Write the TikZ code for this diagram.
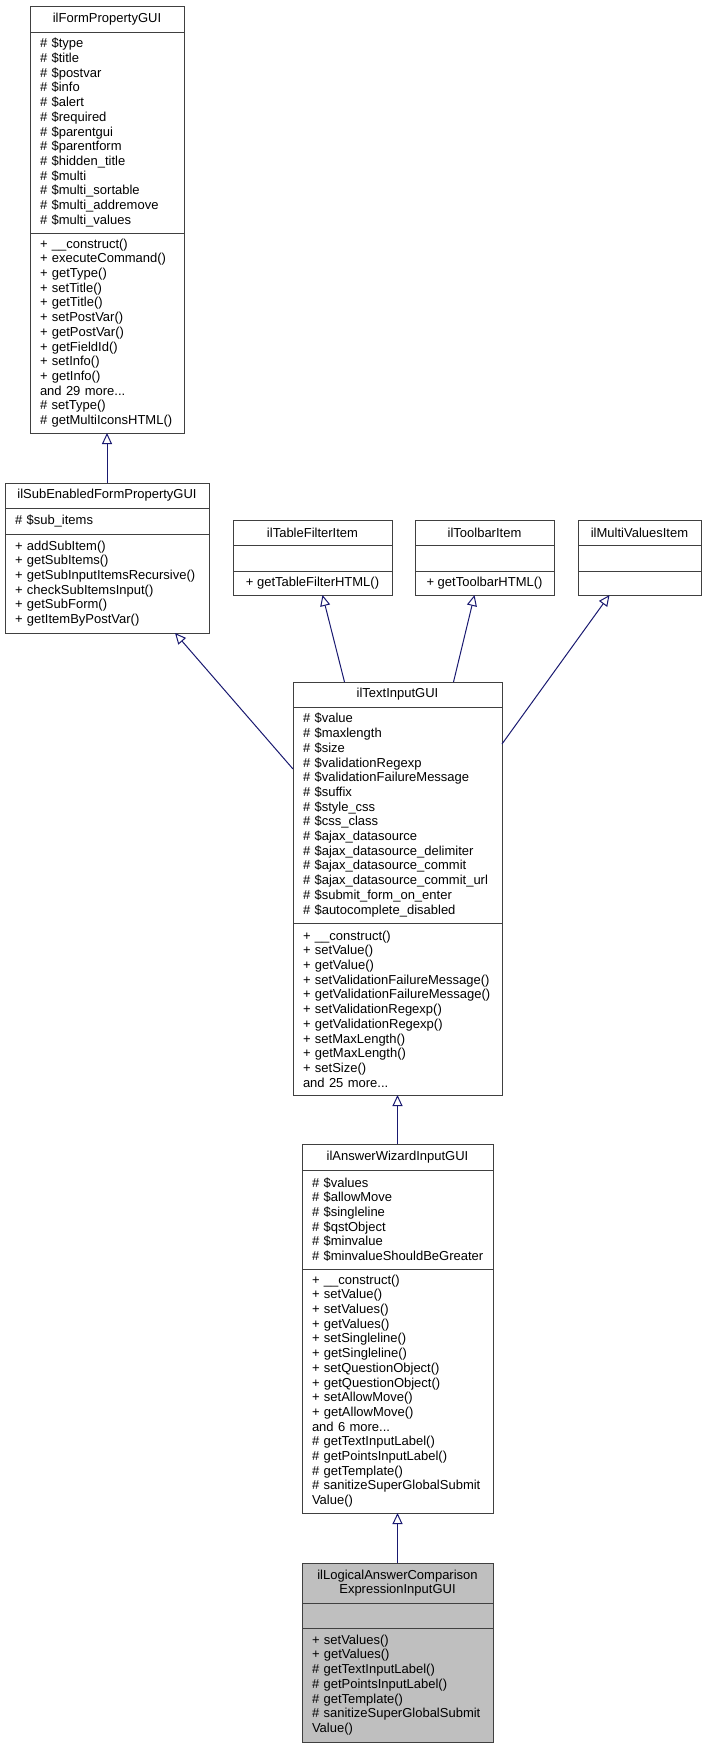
\documentclass[tikz,border=0pt]{standalone}
\usepackage{fontspec}
\setmainfont{Liberation Sans}
\usetikzlibrary{arrows.meta}
\usetikzlibrary{positioning}
\definecolor{edgeblue}{HTML}{191970}
\definecolor{boxline}{HTML}{404040}
\definecolor{boxgray}{HTML}{BFBFBF}

\begin{document}
\begin{tikzpicture}
		[x=1pt,y=-1pt,
		every node/.style={draw=boxline,line width=1pt,outer sep=0pt,inner xsep=10pt,inner ysep=3pt,anchor=north west,font=\fontsize{13}{14.7}\selectfont},
		clsname/.style={align=center},
		members/.style={align=left},
		inherit/.style={draw=edgeblue,line width=1pt,-{Triangle[open,length=11pt,width=10pt]}}]
		\useasboundingbox (0,0) rectangle (706,1748);
		
		% ilFormPropertyGUI
		\node[clsname,minimum width=154pt,minimum height=26pt] (fpname) at (30,6) {ilFormPropertyGUI};
		\node[members,text width=134pt,minimum height=201pt,below=0pt of fpname] (fpattr) {\# \$type\\\# \$title\\\# \$postvar\\\# \$info\\\# \$alert\\\# \$required\\\# \$parentgui\\\# \$parentform\\\# \$hidden\_title\\\# \$multi\\\# \$multi\_sortable\\\# \$multi\_addremove\\\# \$multi\_values};
		\node[members,text width=134pt,minimum height=200pt,below=0pt of fpattr] (fpmeth) {+ \_\_construct()\\+ executeCommand()\\+ getType()\\+ setTitle()\\+ getTitle()\\+ setPostVar()\\+ getPostVar()\\+ getFieldId()\\+ setInfo()\\+ getInfo()\\and 29 more...\\\# setType()\\\# getMultiIconsHTML()};
		
		% ilSubEnabledFormPropertyGUI
		\node[clsname,minimum width=204pt,minimum height=25pt] (sename) at (5,483) {ilSubEnabledFormPropertyGUI};
		\node[members,text width=184pt,minimum height=26pt,below=0pt of sename] (seattr) {\# \$sub\_items};
		\node[members,text width=184pt,minimum height=99pt,below=0pt of seattr] (semeth) {+ addSubItem()\\+ getSubItems()\\+~getSubInputItemsRecursive()\\+ checkSubItemsInput()\\+ getSubForm()\\+ getItemByPostVar()};
		
		% ilTableFilterItem
		\node[clsname,minimum width=159pt,minimum height=25pt] (tfname) at (233,520) {ilTableFilterItem};
		\node[minimum width=159pt,minimum height=26pt,below=0pt of tfname] (tfattr) {};
		\node[clsname,minimum width=159pt,minimum height=24pt,below=0pt of tfattr] (tfmeth) {+ getTableFilterHTML()};
		
		% ilToolbarItem
		\node[clsname,minimum width=139pt,minimum height=25pt] (tbname) at (415,520) {ilToolbarItem};
		\node[minimum width=139pt,minimum height=26pt,below=0pt of tbname] (tbattr) {};
		\node[clsname,minimum width=139pt,minimum height=24pt,below=0pt of tbattr] (tbmeth) {+ getToolbarHTML()};
		
		% ilMultiValuesItem
		\node[clsname,minimum width=123pt,minimum height=25pt] (mvname) at (578,520) {ilMultiValuesItem};
		\node[minimum width=123pt,minimum height=26pt,below=0pt of mvname] (mvattr) {};
		\node[minimum width=123pt,minimum height=24pt,below=0pt of mvattr] (mvmeth) {};
		
		% ilTextInputGUI
		\node[clsname,minimum width=209pt,minimum height=25pt] (tiname) at (293,682) {ilTextInputGUI};
		\node[members,text width=189pt,minimum height=216pt,below=0pt of tiname] (tiattr) {\# \$value\\\# \$maxlength\\\# \$size\\\# \$validationRegexp\\\# \$validationFailureMessage\\\# \$suffix\\\# \$style\_css\\\# \$css\_class\\\# \$ajax\_datasource\\\# \$ajax\_datasource\_delimiter\\\# \$ajax\_datasource\_commit\\\#~\$ajax\_datasource\_commit\_url\\\# \$submit\_form\_on\_enter\\\# \$autocomplete\_disabled};
		\node[members,text width=189pt,minimum height=172pt,below=0pt of tiattr] (timeth) {+ \_\_construct()\\+ setValue()\\+ getValue()\\+~setValidationFailureMessage()\\+~getValidationFailureMessage()\\+ setValidationRegexp()\\+ getValidationRegexp()\\+ setMaxLength()\\+ getMaxLength()\\+ setSize()\\and 25 more...};
		
		% ilAnswerWizardInputGUI
		\node[clsname,minimum width=191pt,minimum height=26pt] (awname) at (302,1144) {ilAnswerWizardInputGUI};
		\node[members,text width=171pt,minimum height=99pt,below=0pt of awname] (awattr) {\# \$values\\\# \$allowMove\\\# \$singleline\\\# \$qstObject\\\# \$minvalue\\\#~\mbox{\$minvalueShouldBeGreater}};
		\node[members,text width=171pt,minimum height=244pt,below=0pt of awattr] (awmeth) {+ \_\_construct()\\+ setValue()\\+ setValues()\\+ getValues()\\+ setSingleline()\\+ getSingleline()\\+ setQuestionObject()\\+ getQuestionObject()\\+ setAllowMove()\\+ getAllowMove()\\and 6 more...\\\# getTextInputLabel()\\\# getPointsInputLabel()\\\# getTemplate()\\\#~sanitizeSuperGlobalSubmit\\Value()};
		
		% ilLogicalAnswerComparisonExpressionInputGUI
		\node[clsname,fill=boxgray,minimum width=191pt,minimum height=40pt] (laname) at (302,1563) {ilLogicalAnswerComparison\\ExpressionInputGUI};
		\node[fill=boxgray,minimum width=191pt,minimum height=25pt,below=0pt of laname] (laattr) {};
		\node[members,fill=boxgray,text width=171pt,minimum height=114pt,below=0pt of laattr] (lameth) {+ setValues()\\+ getValues()\\\# getTextInputLabel()\\\# getPointsInputLabel()\\\# getTemplate()\\\#~sanitizeSuperGlobalSubmit\\Value()};
		
		\draw[inherit] (sename.north) -- (fpmeth.south);
		\draw[inherit] ([yshift=-62pt]tiattr.north west) -- ([xshift=68pt]semeth.south);
		\draw[inherit] ([xshift=-53pt]tiname.north) -- ([xshift=10pt]tfmeth.south);
		\draw[inherit] ([xshift=56pt]tiname.north) -- ([xshift=-10pt]tbmeth.south);
		\draw[inherit] ([yshift=-37pt]tiattr.north east) -- ([xshift=-30pt]mvmeth.south);
		\draw[inherit] (awname.north) -- (timeth.south);
		\draw[inherit] (laname.north) -- (awmeth.south);
		\end{tikzpicture}
\end{document}
